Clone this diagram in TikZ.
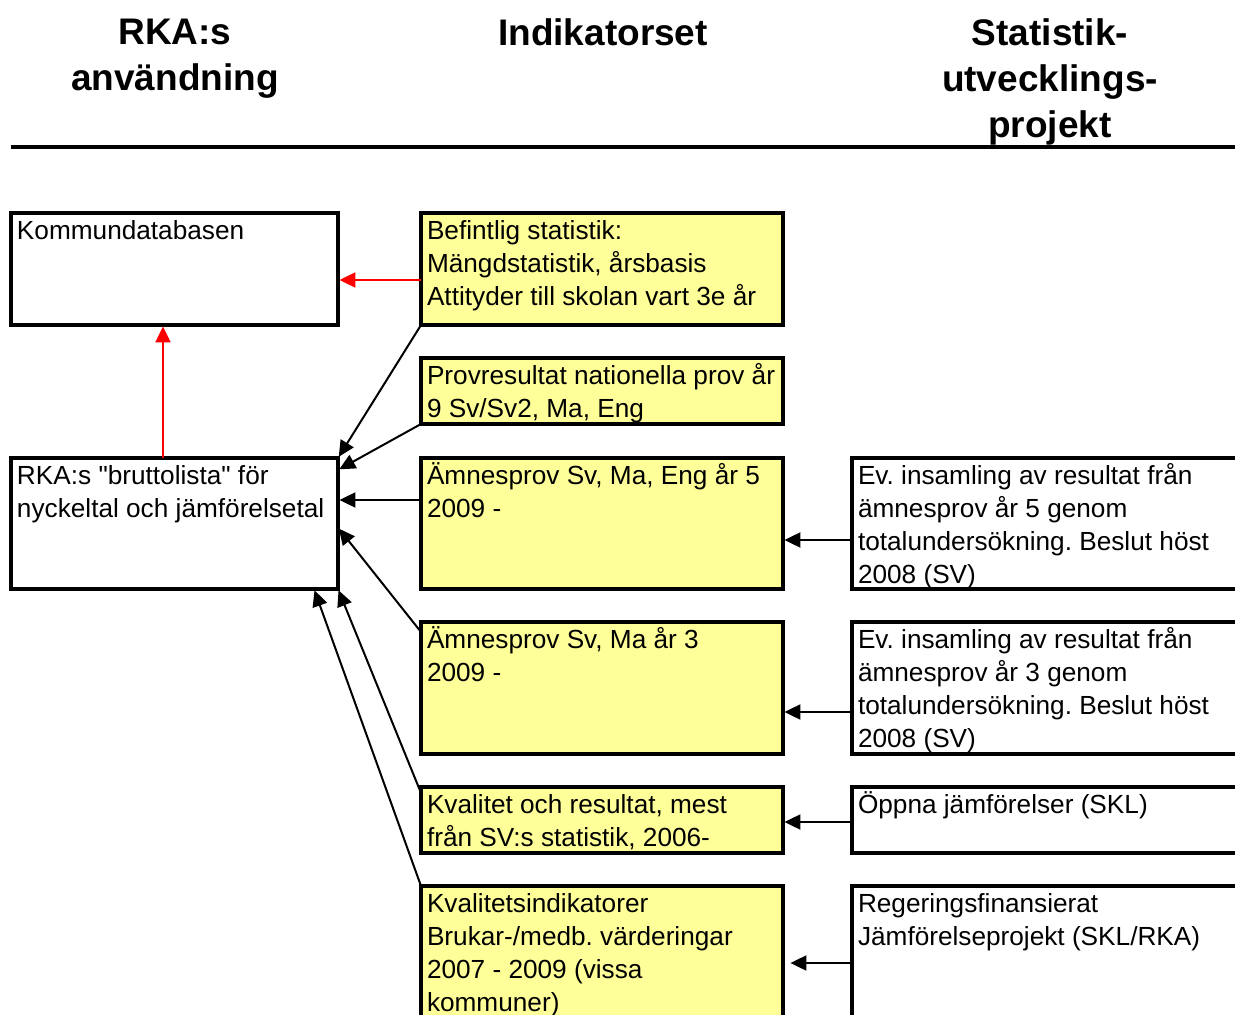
\documentclass[tikz,border=0pt]{standalone}
\usepackage{fontspec}
\setmainfont{Liberation Sans}
\usetikzlibrary{arrows.meta}
\definecolor{boxyellow}{RGB}{255,255,153}
\frenchspacing
% text of a box, top left aligned, fixed size, first baseline fixed
\newcommand{\boxtxt}[3]{\parbox[t][#2][t]{#1}{\hbox{}\vskip-7.1pt\raggedright #3}}

\begin{document}
\begin{tikzpicture}[x=0.5pt,y=-0.5pt,
        heading/.style={font=\fontsize{18.5pt}{23pt}\selectfont\bfseries,align=center,anchor=north,inner sep=0pt},
        tbox/.style={draw,line width=1.6pt,anchor=north west,inner xsep=3pt,inner ysep=4pt,outer sep=0pt,
            font=\fontsize{13.1pt}{16.5pt}\selectfont},
        ybox/.style={tbox,fill=boxyellow},
        conn/.style={-{Triangle[length=8pt,width=7.5pt]},line width=1pt,shorten >=0.7pt},
        redconn/.style={conn,color=red}]
\useasboundingbox (0,0) rectangle (1235,1015);
\clip (0,0) rectangle (1235,1015);

% headings
\node[heading] (hrka) at (175,18.5) {RKA:s\\användning};
\node[heading] (hind) at (603,18.5) {Indikatorset};
\node[heading] (hstat) at (1050,18.5) {Statistik-\\utvecklings-\\projekt};
\draw[line width=1.8pt] (11,147) -- (1235,147);

% left column
\node[tbox] (kdb) at (11,213) {\boxtxt{157.5pt}{48pt}{Kommundatabasen}};
\node[tbox] (brutto) at (11,458) {\boxtxt{157.5pt}{57.5pt}{RKA:s \textquotedbl bruttolista\textquotedbl{} för\\\mbox{nyckeltal och jämförelsetal}}};

% middle column
\node[ybox] (bef) at (421,213) {\boxtxt{175pt}{48pt}{Befintlig statistik:\\Mängdstatistik, årsbasis\\\mbox{Attityder till skolan vart 3e år}}};
\node[ybox] (prov) at (421,358) {\boxtxt{175pt}{25pt}{\mbox{Provresultat nationella prov år}\\9 Sv/Sv2, Ma, Eng}};
\node[ybox] (amne5) at (421,458) {\boxtxt{175pt}{57.5pt}{Ämnesprov Sv, Ma, Eng år 5\\2009 -}};
\node[ybox] (amne3) at (421,622) {\boxtxt{175pt}{58pt}{Ämnesprov Sv, Ma år 3\\2009 -}};
\node[ybox] (kval) at (421,787) {\boxtxt{175pt}{25pt}{Kvalitet och resultat, mest\\från SV:s statistik, 2006-}};
\node[ybox] (kind) at (421,886) {\boxtxt{175pt}{69pt}{Kvalitetsindikatorer\\Brukar-/medb. värderingar\\2007 - 2009 (vissa\\kommuner)}};

% right column
\node[tbox] (ev5) at (852,458) {\boxtxt{193pt}{57.5pt}{Ev. insamling av resultat från\\ämnesprov år 5 genom\\\mbox{totalundersökning. Beslut höst}\\2008 (SV)}};
\node[tbox] (ev3) at (852,622) {\boxtxt{193pt}{58pt}{Ev. insamling av resultat från\\ämnesprov år 3 genom\\\mbox{totalundersökning. Beslut höst}\\2008 (SV)}};
\node[tbox] (opp) at (852,787) {\boxtxt{193pt}{25pt}{Öppna jämförelser (SKL)}};
\node[tbox] (reg) at (852,886) {\boxtxt{193pt}{69pt}{Regeringsfinansierat\\Jämförelseprojekt (SKL/RKA)}};

% connectors
\draw[redconn] ([yshift=-5.5pt]bef.west) -- ([yshift=-5.5pt]kdb.east);
\draw[redconn] ([xshift=-5.75pt]brutto.north) -- ([xshift=-5.75pt]kdb.south);

\draw[conn] (bef.south west) -- (brutto.north east);
\draw[conn] (prov.south west) -- ([yshift=-6pt]brutto.north east);
\draw[conn] ([yshift=11.75pt]amne5.west) -- ([yshift=11.75pt]brutto.east);
\draw[conn] ([yshift=-5pt]amne3.north west) -- ([yshift=-2pt]brutto.east);
\draw[conn] ([yshift=-3pt]kval.north west) -- (brutto.south east);
\draw[conn] (kind.north west) -- ([xshift=-12pt]brutto.south east);

\draw[conn] ([yshift=-8.25pt]ev5.west) -- ([yshift=-8.25pt]amne5.east);
\draw[conn] ([yshift=-12pt]ev3.west) -- ([yshift=-12pt]amne3.east);
\draw[conn] ([yshift=-1pt]opp.west) -- ([yshift=-1pt]kval.east);
\draw[conn] (reg.west) -- ([xshift=3pt]kind.east);

\end{tikzpicture}
\end{document}
